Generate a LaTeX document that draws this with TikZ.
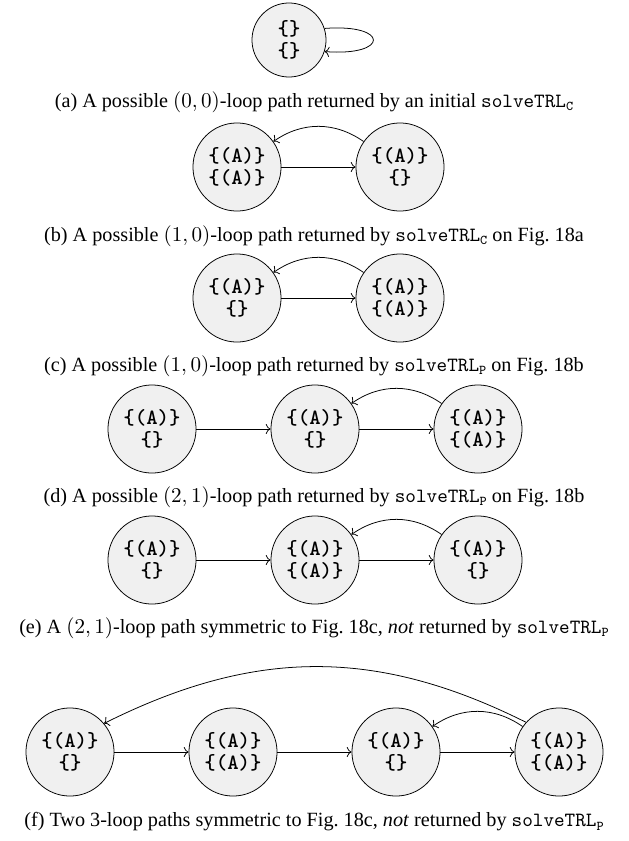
\documentclass[tikz,border=0pt]{standalone}
\usepackage{fontspec}
\setmainfont{Liberation Serif}
\usetikzlibrary{arrows.meta}
\newcommand{\subtt}[1]{\raisebox{-0.35ex}{\fontsize{7}{7}\selectfont\texttt{#1}}}
\begin{document}
\begin{tikzpicture}[x=0.52pt,y=-0.52pt,
  st/.style={circle,draw,fill=black!6,minimum size=45.8pt,inner sep=0pt,align=center,font=\ttfamily\bfseries\fontsize{11.3}{11.8}\selectfont},
  sta/.style={st,minimum size=38.5pt},
  captxt/.style={font=\fontsize{10.5}{12}\selectfont,inner sep=0pt},
  >=To]
\useasboundingbox (0,0) rectangle (629,841);
% (a)
\node[sta] (a1) at (289,40) {\{\}\\\{\}};
\draw[->] (a1.18) .. controls +(65,-5) and +(65,5) .. (a1.-18);
\node[captxt] (ca) at (314,102) {(a) A possible $(0,0)$-loop path returned by an initial \texttt{solveTRL}\subtt{C}};
% (b)
\node[st] (b1) at (237,167) {\{(A)\}\\\{(A)\}};
\node[st] (b2) at (400,167) {\{(A)\}\\\{\}};
\draw[->] (b1) -- (b2);
\draw[->] (b2) to[bend right=35] (b1);
\node[captxt] (cb) at (314,236) {(b) A possible $(1,0)$-loop path returned by \texttt{solveTRL}\subtt{C} on Fig.~18a};
% (c)
\node[st] (c1) at (237,298) {\{(A)\}\\\{\}};
\node[st] (c2) at (400,298) {\{(A)\}\\\{(A)\}};
\draw[->] (c1) -- (c2);
\draw[->] (c2) to[bend right=35] (c1);
\node[captxt] (cc) at (314,366) {(c) A possible $(1,0)$-loop path returned by \texttt{solveTRL}\subtt{P} on Fig.~18b};
% (d)
\node[st] (d1) at (152,429) {\{(A)\}\\\{\}};
\node[st] (d2) at (315,429) {\{(A)\}\\\{\}};
\node[st] (d3) at (478,429) {\{(A)\}\\\{(A)\}};
\draw[->] (d1) -- (d2);
\draw[->] (d2) -- (d3);
\draw[->] (d3) to[bend right=35] (d2);
\node[captxt] (cd) at (314,497) {(d) A possible $(2,1)$-loop path returned by \texttt{solveTRL}\subtt{P} on Fig.~18b};
% (e)
\node[st] (e1) at (152,560) {\{(A)\}\\\{\}};
\node[st] (e2) at (315,560) {\{(A)\}\\\{(A)\}};
\node[st] (e3) at (478,560) {\{(A)\}\\\{\}};
\draw[->] (e1) -- (e2);
\draw[->] (e2) -- (e3);
\draw[->] (e3) to[bend right=35] (e2);
\node[captxt] (ce) at (314,628) {(e) A $(2,1)$-loop path symmetric to Fig.~18c, \textit{not} returned by \texttt{solveTRL}\subtt{P}};
% (f)
\node[st] (f1) at (70,752) {\{(A)\}\\\{\}};
\node[st] (f2) at (233,752) {\{(A)\}\\\{(A)\}};
\node[st] (f3) at (396,752) {\{(A)\}\\\{\}};
\node[st] (f4) at (559,752) {\{(A)\}\\\{(A)\}};
\draw[->] (f1) -- (f2);
\draw[->] (f2) -- (f3);
\draw[->] (f3) -- (f4);
\draw[->] (f4) to[bend right=35] (f3);
\draw[->] (f4.138) .. controls +(-150,-75) and +(150,-75) .. (f1.40);
\node[captxt] (cf) at (314,822) {(f) Two 3-loop paths symmetric to Fig.~18c, \textit{not} returned by \texttt{solveTRL}\subtt{P}};
\end{tikzpicture}
\end{document}
